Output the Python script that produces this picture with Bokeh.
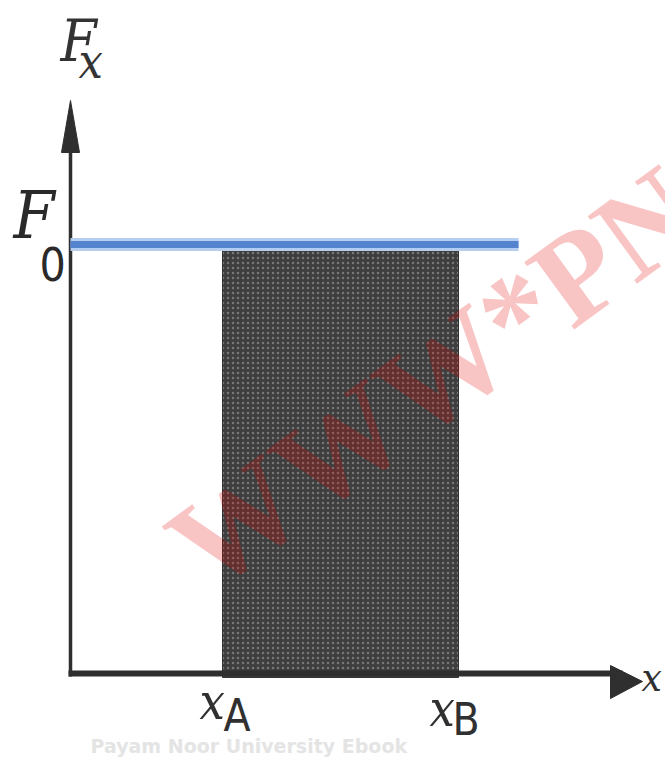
from bokeh.plotting import figure
from bokeh.models import Range1d
from bokeh.core.properties import value
from bokeh.embed import file_html
from bokeh.resources import INLINE

# ---- data (units: 1 unit = 100 px of the original drawing) ----
x_A = 1.52          # start of the shaded interval
x_B = 3.88          # end of the shaded interval
F0 = 4.29           # constant force level
F0_line_end = 4.48  # where the F0 line stops
x_axis_end = 5.72
y_axis_end = 5.73
axis_labels = ["F", "x"]
level_label = ["F", "0"]
interval_x = ["x", "x"]
interval_sub = ["A", "B"]
watermark = "WWW*PN"
footer = "Payam Noor University Ebook"

AX = "#2f2f2f"
SERIF = value("'DejaVu Serif Condensed', 'DejaVu Serif', serif")
NARROW = value("'DejaVu Sans Condensed', 'Liberation Sans Narrow', 'DejaVu Sans', sans-serif")

p = figure(width=665, height=757, output_backend="svg", toolbar_location=None,
           x_range=Range1d(-0.70, 5.95), y_range=Range1d(-0.84, 6.73),
           x_axis_location=None, y_axis_location=None,
           min_border=0, min_border_left=0, min_border_right=0,
           min_border_top=0, min_border_bottom=0,
           background_fill_color="white", border_fill_color="white",
           outline_line_color=None)
p.grid.visible = False

# footer (faint, behind everything)
p.text(x=[0.20], y=[-0.72], text=[footer], text_font=value("DejaVu Sans"),
       text_font_style="bold", text_font_size="19px", text_color="#e4e4e4",
       text_align="left", text_baseline="alphabetic")

# shaded area under the force line between x_A and x_B
p.quad(left=[x_A], right=[x_B], bottom=[-0.04], top=[F0],
       fill_color="#3e3e3e", line_color="#333333", line_width=1,
       hatch_pattern=".", hatch_color="#a8a8a8", hatch_alpha=0.55,
       hatch_scale=5, hatch_weight=1)

# axes
p.line([0, 0], [-0.03, y_axis_end - 0.3], line_width=3.5, color=AX)
p.patch([-0.09, 0, 0.09], [y_axis_end - 0.52, y_axis_end, y_axis_end - 0.52],
        fill_color=AX, line_color=AX)
p.line([-0.02, x_axis_end - 0.2], [0, 0], line_width=6, color=AX)
p.patch([x_axis_end - 0.32, x_axis_end, x_axis_end - 0.32],
        [0.08, -0.08, -0.25], fill_color=AX, line_color=AX)

# constant force line F0
p.line([0, F0_line_end], [F0, F0], line_width=13, color="#b4cdf0")
p.line([0, F0_line_end], [F0, F0], line_width=7, color="#5584cf")

# labels
p.text(x=[-0.10], y=[y_axis_end + 0.26], text=[axis_labels[0]], text_font=SERIF,
       text_font_style="italic", text_font_size="58px", text_color="#333333")
p.text(x=[0.08], y=[y_axis_end + 0.12], text=[axis_labels[1]], text_font=SERIF,
       text_font_style="italic", text_font_size="48px", text_color="#333333")
p.text(x=[-0.57], y=[F0 - 0.09], text=[level_label[0]], text_font=SERIF,
       text_font_style="italic", text_font_size="66px", text_color="#2a2a2a")
p.text(x=[-0.31], y=[F0 - 0.36], text=[level_label[1]], text_font=NARROW,
       text_font_size="46px", text_color="#2a2a2a")
p.text(x=[x_A - 0.23, x_B - 0.29], y=[-0.57, -0.64], text=interval_x,
       text_font=SERIF, text_font_style="italic", text_font_size="50px",
       text_color="#303030")
p.text(x=[x_A + 0.01, x_B - 0.06], y=[-0.67, -0.71], text=interval_sub,
       text_font=NARROW, text_font_size="44px", text_color="#303030")
p.text(x=[x_axis_end - 0.01], y=[-0.26], text=["x"], text_font=SERIF,
       text_font_style="italic", text_font_size="40px", text_color="#303030")

# watermark
p.text(x=[1.14], y=[1.13], text=[watermark], angle=0.63,
       text_font=value("Liberation Serif"), text_font_style="bold",
       text_font_size="128px", text_color="#e60000", text_alpha=0.23,
       text_align="left", text_baseline="middle")

open("out.html", "w").write(file_html(p, INLINE))
